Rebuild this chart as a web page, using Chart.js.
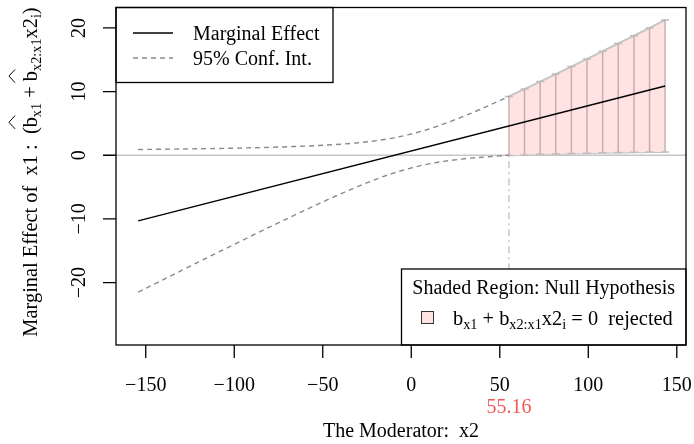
<!DOCTYPE html>
<html>
<head>
<meta charset="utf-8">
<script src="https://cdn.jsdelivr.net/npm/chart.js@4.4.1/dist/chart.umd.min.js"></script>
<style>
    html, body { margin: 0; padding: 0; background: #fff; }
    #wrap { width: 694px; height: 444px; }
</style>
</head>
<body>
<div id="wrap"><canvas id="effectChart" width="694" height="444"></canvas></div>
<script>
// marginal effect line (end points)
const lineX = [-154.3, 143.4];
const lineY = [-10.3, 10.87];

// 95% confidence band, left of the cut point
const ciX = [-154.3, -130, -110, -90, -70, -50, -30, -10, 10, 30, 45, 55.16];
const ciUpper = [0.90, 0.98, 1.06, 1.17, 1.33, 1.56, 1.96, 2.72, 4.12, 6.16, 7.95, 9.24];
const ciLower = [-21.50, -18.12, -15.36, -12.63, -9.94, -7.33, -4.89, -2.80, -1.35, -0.55, -0.21, 0];

// region where the null is rejected
const regionX = [55.16, 63.98, 72.81, 81.63, 90.46, 99.28, 108.1, 116.9, 125.8, 134.6, 143.4];
const regionUpper = [9.24, 10.39, 11.56, 12.74, 13.93, 15.13, 16.34, 17.55, 18.78, 19.99, 21.22];
const regionLower = [0, 0.05, 0.14, 0.21, 0.28, 0.33, 0.38, 0.42, 0.45, 0.49, 0.52];

const cutPoint = 55.16;
const cutLabel = '55.16';

const xTicks = [-150, -100, -50, 0, 50, 100, 150];
const xTickLabels = ['\u2212150', '\u2212100', '\u221250', '0', '50', '100', '150'];
const yTicks = [-20, -10, 0, 10, 20];
const yTickLabels = ['\u221220', '\u221210', '0', '10', '20'];

const FONT = "'Liberation Serif', 'Times New Roman', serif";
const PINK = '#ffe2e2';
const DASH_GREY = '#8a8a8a';
const LIGHT_GREY = '#c6c6c6';

const zip = (xs, ys) => xs.map((x, i) => ({ x: x, y: ys[i] }));

// draws text with subscripts / hats, parts = [[text, kind], ...]
function drawRich(ctx, parts, x, y, size, align) {
    let widths = parts.map((p) => {
        ctx.font = (p[1] == 'sub' ? size * 0.7 : size) + 'px ' + FONT;
        return ctx.measureText(p[0]).width;
    });
    let total = widths.reduce((a, b) => a + b, 0);
    let cx = align == 'center' ? x - total / 2 : x;
    ctx.textAlign = 'left';
    ctx.textBaseline = 'alphabetic';
    parts.forEach((p, i) => {
        if (p[1] == 'sub') {
            ctx.font = (size * 0.7) + 'px ' + FONT;
            ctx.fillText(p[0], cx, y + size * 0.22);
        } else {
            ctx.font = size + 'px ' + FONT;
            ctx.fillText(p[0], cx, y);
            if (p[1] == 'hat') {
                ctx.beginPath();
                ctx.moveTo(cx - 1.5, y - size * 1.05);
                ctx.lineTo(cx + widths[i] / 2, y - size * 1.35);
                ctx.lineTo(cx + widths[i] + 1.5, y - size * 1.05);
                ctx.lineWidth = 1;
                ctx.setLineDash([]);
                ctx.strokeStyle = '#000';
                ctx.stroke();
            }
        }
        cx += widths[i];
    });
}

const rFrame = {
    id: 'rFrame',

    beforeDatasetsDraw(chart) {
        const ctx = chart.ctx;
        const area = chart.chartArea;
        const sx = chart.scales.x;
        const sy = chart.scales.y;
        ctx.save();

        // reference line at zero
        ctx.strokeStyle = LIGHT_GREY;
        ctx.lineWidth = 1.5;
        ctx.beginPath();
        ctx.moveTo(area.left, sy.getPixelForValue(0));
        ctx.lineTo(area.right, sy.getPixelForValue(0));
        ctx.stroke();

        // cut point marker
        ctx.setLineDash([2, 4, 7, 4]);
        ctx.beginPath();
        ctx.moveTo(sx.getPixelForValue(cutPoint), sy.getPixelForValue(0));
        ctx.lineTo(sx.getPixelForValue(cutPoint), area.bottom);
        ctx.stroke();
        ctx.restore();
    },

    afterDatasetDraw(chart, args) {
        if (args.index != 3) return;
        const ctx = chart.ctx;
        const sx = chart.scales.x;
        const sy = chart.scales.y;
        ctx.save();
        regionX.forEach((x, i) => {
            let px = sx.getPixelForValue(x);
            let top = sy.getPixelForValue(regionUpper[i]);
            let bot = sy.getPixelForValue(regionLower[i]);
            ctx.strokeStyle = 'rgba(160,140,140,0.6)';
            ctx.lineWidth = 1.5;
            ctx.beginPath();
            ctx.moveTo(px, top);
            ctx.lineTo(px, bot);
            ctx.stroke();
            // caps
            ctx.strokeStyle = '#bdbdbd';
            ctx.beginPath();
            ctx.moveTo(px - 4, top);
            ctx.lineTo(px + 4, top);
            ctx.moveTo(px - 4, bot);
            ctx.lineTo(px + 4, bot);
            ctx.stroke();
        });
        ctx.restore();
    },

    afterDraw(chart) {
        const ctx = chart.ctx;
        const area = chart.chartArea;
        const sx = chart.scales.x;
        const sy = chart.scales.y;
        ctx.save();
        ctx.setLineDash([]);
        ctx.strokeStyle = '#000';
        ctx.fillStyle = '#000';
        ctx.lineWidth = 1.3;

        // axes ticks
        ctx.beginPath();
        xTicks.forEach((v) => {
            let p = sx.getPixelForValue(v);
            ctx.moveTo(p, area.bottom);
            ctx.lineTo(p, area.bottom + 13);
        });
        yTicks.forEach((v) => {
            let p = sy.getPixelForValue(v);
            ctx.moveTo(area.left, p);
            ctx.lineTo(area.left - 13, p);
        });
        ctx.stroke();

        ctx.font = '20px ' + FONT;
        ctx.textAlign = 'center';
        ctx.textBaseline = 'alphabetic';
        xTicks.forEach((v, i) => {
            ctx.fillText(xTickLabels[i], sx.getPixelForValue(v), 391);
        });
        yTicks.forEach((v, i) => {
            ctx.save();
            ctx.translate(85, sy.getPixelForValue(v));
            ctx.rotate(-Math.PI / 2);
            ctx.fillText(yTickLabels[i], 0, 0);
            ctx.restore();
        });

        // cut point value under the axis
        ctx.fillStyle = '#f25757';
        ctx.fillText(cutLabel, sx.getPixelForValue(cutPoint), 413);

        // axis titles
        ctx.fillStyle = '#000';
        ctx.fillText('The Moderator:  x2', (area.left + area.right) / 2, 437);
        ctx.save();
        ctx.translate(36.5, 172);
        ctx.rotate(-Math.PI / 2);
        drawRich(ctx, [
            ['Marginal Effect of  x1 :  ('],
            ['b', 'hat'], ['x1', 'sub'], [' + '],
            ['b', 'hat'], ['x2:x1', 'sub'], ['x2'], ['i', 'sub'], [')'],
        ], 0, 0, 20.4, 'center');
        ctx.restore();

        // top-left legend
        ctx.fillStyle = '#fff';
        ctx.fillRect(area.left, area.top, 217, 75);
        ctx.strokeRect(area.left, area.top, 217, 75);
        ctx.beginPath();
        ctx.moveTo(133, 33);
        ctx.lineTo(173, 33);
        ctx.lineWidth = 1.4;
        ctx.stroke();
        ctx.strokeStyle = DASH_GREY;
        ctx.setLineDash([5, 4]);
        ctx.beginPath();
        ctx.moveTo(133, 58);
        ctx.lineTo(173, 58);
        ctx.stroke();
        ctx.setLineDash([]);
        ctx.fillStyle = '#000';
        ctx.textAlign = 'left';
        ctx.fillText('Marginal Effect', 193, 40);
        ctx.fillText('95% Conf. Int.', 193, 65);

        // bottom-right legend
        ctx.strokeStyle = '#000';
        ctx.lineWidth = 1.3;
        ctx.fillStyle = '#fff';
        ctx.fillRect(401.5, 269, area.right - 401.5, area.bottom - 269);
        ctx.strokeRect(401.5, 269, area.right - 401.5, area.bottom - 269);
        ctx.fillStyle = '#000';
        ctx.textAlign = 'center';
        ctx.fillText('Shaded Region: Null Hypothesis', (401.5 + area.right) / 2, 294);
        ctx.fillStyle = PINK;
        ctx.fillRect(421.5, 311.5, 12, 12);
        ctx.lineWidth = 1;
        ctx.strokeStyle = '#333';
        ctx.strokeRect(421.5, 311.5, 12, 12);
        ctx.fillStyle = '#000';
        drawRich(ctx, [
            ['b'], ['x1', 'sub'], [' + b'], ['x2:x1', 'sub'], ['x2'], ['i', 'sub'], [' = 0  rejected'],
        ], 453, 324.5, 20.4, 'left');

        // plot box
        ctx.strokeStyle = '#000';
        ctx.lineWidth = 1.3;
        ctx.strokeRect(area.left, area.top, area.right - area.left, area.bottom - area.top);
        ctx.restore();
    }
};

const cdata = {
    datasets: [
        {
            data: zip(lineX, lineY),
            borderColor: '#000',
            borderWidth: 1.4,
            fill: false,
        },
        {
            data: zip(ciX, ciUpper),
            borderColor: DASH_GREY,
            borderWidth: 1.4,
            borderDash: [5, 4],
            cubicInterpolationMode: 'monotone',
            fill: false,
        },
        {
            data: zip(ciX, ciLower),
            borderColor: DASH_GREY,
            borderWidth: 1.4,
            borderDash: [5, 4],
            cubicInterpolationMode: 'monotone',
            fill: false,
        },
        {
            data: zip(regionX, regionUpper),
            borderColor: LIGHT_GREY,
            borderWidth: 2,
            backgroundColor: PINK,
            cubicInterpolationMode: 'monotone',
            fill: '+1',
        },
        {
            data: zip(regionX, regionLower),
            borderColor: LIGHT_GREY,
            borderWidth: 2,
            cubicInterpolationMode: 'monotone',
            fill: false,
        },
    ]
};

const config = {
    type: 'line',
    data: cdata,
    options: {
        responsive: false,
        animation: false,
        devicePixelRatio: 1,
        layout: {
            padding: { left: 116, right: 8, top: 7.5, bottom: 99 }
        },
        elements: {
            point: { radius: 0 },
            line: { tension: 0 }
        },
        plugins: {
            legend: { display: false },
            tooltip: { enabled: false },
        },
        scales: {
            x: { type: 'linear', min: -166.8, max: 155.2, display: false },
            y: { type: 'linear', min: -29.8, max: 23.2, display: false },
        }
    },
    plugins: [rFrame]
};

let ctx = document.getElementById('effectChart').getContext('2d');
var myChart = new Chart(ctx, config);
</script>
</body>
</html>
